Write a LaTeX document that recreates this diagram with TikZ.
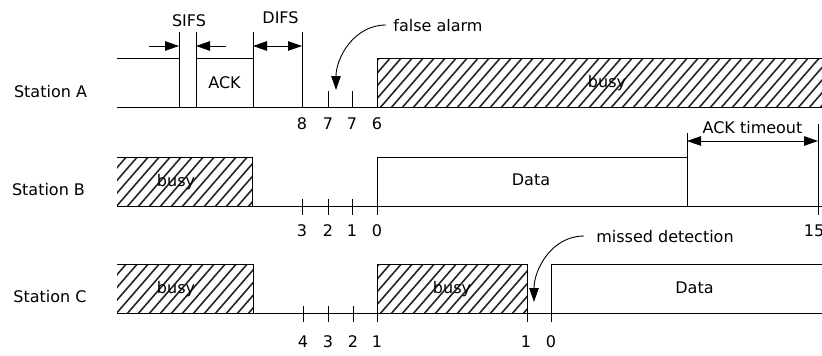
\documentclass[tikz,border=0pt]{standalone}
\usepackage{fontspec}
\setmainfont{DejaVu Sans}
\usetikzlibrary{arrows.meta}
\tikzset{
  lbl/.style={font=\fontsize{16}{19}\selectfont, inner sep=0pt, anchor=base},
  ln/.style={line width=0.9pt},
  tip/.style={line width=0.9pt,-{Triangle[length=14pt,width=9.5pt]}},
  dtip/.style={line width=0.9pt,{Triangle[length=14pt,width=9.5pt]}-{Triangle[length=14pt,width=9.5pt]}},
  hatchln/.style={line width=1.6pt, black!85},
}
\newcommand{\hatchbox}[4]{%
  \begin{scope}
    \clip (#1,#2) rectangle (#3,#4);
    \foreach \k in {0,11,...,880} {\draw[hatchln] (\k-50,#4+2) -- (\k-4,#2-2);}
  \end{scope}}
\begin{document}
\begin{tikzpicture}[x=1pt,y=-1pt]
\useasboundingbox (0,0) rectangle (822,356);
% ---------- Station A ----------
\node[lbl] (la) at (50.5,97.5) {Station A};
\hatchbox{377}{58}{823}{107}
\draw[ln] (117,58) -- (179,58);
\draw[ln] (179,32) -- (179,107);
\draw[ln] (196,32) -- (196,107);
\draw[ln] (196,58) -- (253,58);
\draw[ln] (253,32) -- (253,107);
\draw[ln] (302,32) -- (302,107);
\draw[ln] (117,107) -- (823,107);
\draw[ln] (328,91) -- (328,107);
\draw[ln] (352,91) -- (352,107);
\draw[ln] (823,58) -- (377,58) -- (377,107);
\node[lbl] (ack) at (224.5,88) {ACK};
\node[lbl] (busyA) at (607,87) {busy};
\node[lbl] (sifs) at (189,26) {SIFS};
\node[lbl] (difs) at (280.5,23.5) {DIFS};
\coordinate (s1a) at (149,46); \coordinate (s1b) at (179,46);
\coordinate (s2a) at (226,46); \coordinate (s2b) at (196,46);
\coordinate (d1) at (253,46); \coordinate (d2) at (302,46);
\draw[tip] (s1a) -- (s1b);
\draw[tip] (s2a) -- (s2b);
\draw[dtip] (d1) -- (d2);
\node[lbl] (a8) at (302,129) {8};
\node[lbl] (a7a) at (328,129) {7};
\node[lbl] (a7b) at (352,129) {7};
\node[lbl] (a6) at (377,129) {6};
\node[lbl] (fa) at (438,31.5) {false alarm};
\coordinate (faS) at (386,25);
\coordinate (faT) at (336,90);
\draw[tip] (faS) to[out=180,in=90] (faT);
% ---------- Station B ----------
\node[lbl] (lb) at (48.5,195) {Station B};
\hatchbox{117}{157}{252}{206}
\draw[ln] (117,157) -- (252,157) -- (252,206);
\draw[ln] (117,206) -- (823,206);
\foreach \x in {302,328,352} {\draw[ln] (\x,199) -- (\x,215);}
\draw[ln] (377,215) -- (377,157) -- (687,157);
\draw[ln] (687,133) -- (687,206);
\draw[ln] (818,124) -- (818,215);
\coordinate (t1) at (687,141); \coordinate (t2) at (818,141);
\draw[dtip] (t1) -- (t2);
\node[lbl] (ackt) at (752.5,133) {ACK timeout};
\node[lbl] (busyB) at (176,186) {busy};
\node[lbl] (dataB) at (531,185) {Data};
\node[lbl] (b3) at (302,236) {3};
\node[lbl] (b2) at (328,236) {2};
\node[lbl] (b1) at (352,236) {1};
\node[lbl] (b0) at (377,236) {0};
\node[lbl] (b15) at (814,236) {15};
% ---------- Station C ----------
\node[lbl] (lc) at (50,302.5) {Station C};
\hatchbox{117}{264}{253}{313}
\draw[ln] (117,264) -- (253,264) -- (253,313);
\hatchbox{377}{264}{527}{313}
\draw[ln] (377,322) -- (377,264) -- (527,264) -- (527,322);
\draw[ln] (117,313) -- (823,313);
\foreach \x in {303,328,353} {\draw[ln] (\x,306) -- (\x,322);}
\draw[ln] (551,322) -- (551,264) -- (823,264);
\node[lbl] (busyC1) at (176,293) {busy};
\node[lbl] (busyC2) at (452,293) {busy};
\node[lbl] (dataC) at (694.5,293) {Data};
\node[lbl] (c4) at (303,347) {4};
\node[lbl] (c3) at (328,347) {3};
\node[lbl] (c2) at (353,347) {2};
\node[lbl] (c1) at (377,347) {1};
\node[lbl] (c1b) at (526,347) {1};
\node[lbl] (c0) at (551,347) {0};
\node[lbl] (md) at (665,242) {missed detection};
\coordinate (mdS) at (584,236);
\coordinate (mdT) at (534,302);
\draw[tip] (mdS) to[out=180,in=90] (mdT);
\end{tikzpicture}
\end{document}
